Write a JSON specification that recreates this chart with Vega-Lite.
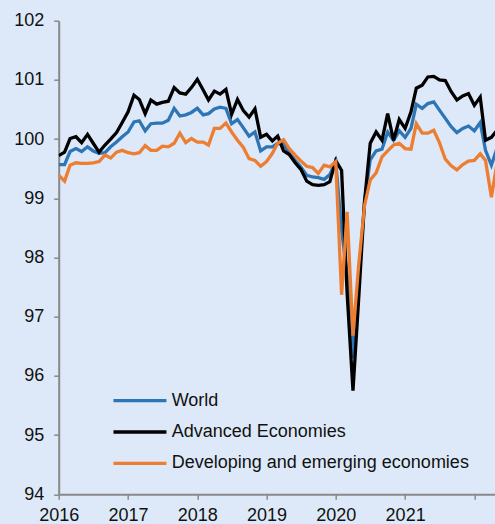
{
  "$schema": "https://vega.github.io/schema/vega-lite/v6.json",
  "autosize": "none",
  "width": 436.3,
  "height": 473.6,
  "padding": {"left": 58.7, "top": 20.7, "right": 0, "bottom": 29.7},
  "background": "#dde9f8",
  "config": {
    "view": {"stroke": null},
    "font": "Liberation Sans",
    "axis": {"grid": false, "domainColor": "#898989", "domainWidth": 2, "tickColor": "#898989", "tickWidth": 1.5, "tickSize": 5, "labelFont": "Liberation Sans", "labelFontSize": 18, "labelColor": "#111111", "title": null}
  },
  "data": {"values": [
    {"date":"2016-01-01","World":99.57,"Advanced Economies":99.72,"Developing and emerging economies":99.39},
    {"date":"2016-02-01","World":99.57,"Advanced Economies":99.78,"Developing and emerging economies":99.29},
    {"date":"2016-03-01","World":99.79,"Advanced Economies":100.01,"Developing and emerging economies":99.56},
    {"date":"2016-04-01","World":99.84,"Advanced Economies":100.04,"Developing and emerging economies":99.60},
    {"date":"2016-05-01","World":99.79,"Advanced Economies":99.94,"Developing and emerging economies":99.59},
    {"date":"2016-06-01","World":99.87,"Advanced Economies":100.08,"Developing and emerging economies":99.59},
    {"date":"2016-07-01","World":99.80,"Advanced Economies":99.93,"Developing and emerging economies":99.60},
    {"date":"2016-08-01","World":99.76,"Advanced Economies":99.78,"Developing and emerging economies":99.62},
    {"date":"2016-09-01","World":99.77,"Advanced Economies":99.90,"Developing and emerging economies":99.73},
    {"date":"2016-10-01","World":99.87,"Advanced Economies":100.00,"Developing and emerging economies":99.68},
    {"date":"2016-11-01","World":99.95,"Advanced Economies":100.11,"Developing and emerging economies":99.78},
    {"date":"2016-12-01","World":100.04,"Advanced Economies":100.28,"Developing and emerging economies":99.81},
    {"date":"2017-01-01","World":100.12,"Advanced Economies":100.46,"Developing and emerging economies":99.77},
    {"date":"2017-02-01","World":100.29,"Advanced Economies":100.74,"Developing and emerging economies":99.75},
    {"date":"2017-03-01","World":100.31,"Advanced Economies":100.67,"Developing and emerging economies":99.77},
    {"date":"2017-04-01","World":100.14,"Advanced Economies":100.43,"Developing and emerging economies":99.89},
    {"date":"2017-05-01","World":100.26,"Advanced Economies":100.66,"Developing and emerging economies":99.81},
    {"date":"2017-06-01","World":100.27,"Advanced Economies":100.59,"Developing and emerging economies":99.81},
    {"date":"2017-07-01","World":100.27,"Advanced Economies":100.62,"Developing and emerging economies":99.88},
    {"date":"2017-08-01","World":100.32,"Advanced Economies":100.64,"Developing and emerging economies":99.87},
    {"date":"2017-09-01","World":100.52,"Advanced Economies":100.87,"Developing and emerging economies":99.93},
    {"date":"2017-10-01","World":100.39,"Advanced Economies":100.78,"Developing and emerging economies":100.10},
    {"date":"2017-11-01","World":100.41,"Advanced Economies":100.76,"Developing and emerging economies":99.94},
    {"date":"2017-12-01","World":100.45,"Advanced Economies":100.87,"Developing and emerging economies":100.01},
    {"date":"2018-01-01","World":100.52,"Advanced Economies":101.01,"Developing and emerging economies":99.95},
    {"date":"2018-02-01","World":100.41,"Advanced Economies":100.83,"Developing and emerging economies":99.95},
    {"date":"2018-03-01","World":100.43,"Advanced Economies":100.66,"Developing and emerging economies":99.90},
    {"date":"2018-04-01","World":100.51,"Advanced Economies":100.81,"Developing and emerging economies":100.18},
    {"date":"2018-05-01","World":100.54,"Advanced Economies":100.76,"Developing and emerging economies":100.18},
    {"date":"2018-06-01","World":100.52,"Advanced Economies":100.84,"Developing and emerging economies":100.27},
    {"date":"2018-07-01","World":100.26,"Advanced Economies":100.42,"Developing and emerging economies":100.12},
    {"date":"2018-08-01","World":100.33,"Advanced Economies":100.67,"Developing and emerging economies":99.98},
    {"date":"2018-09-01","World":100.19,"Advanced Economies":100.48,"Developing and emerging economies":99.86},
    {"date":"2018-10-01","World":100.05,"Advanced Economies":100.37,"Developing and emerging economies":99.67},
    {"date":"2018-11-01","World":100.12,"Advanced Economies":100.51,"Developing and emerging economies":99.64},
    {"date":"2018-12-01","World":99.80,"Advanced Economies":100.03,"Developing and emerging economies":99.54},
    {"date":"2019-01-01","World":99.87,"Advanced Economies":100.08,"Developing and emerging economies":99.62},
    {"date":"2019-02-01","World":99.87,"Advanced Economies":99.97,"Developing and emerging economies":99.76},
    {"date":"2019-03-01","World":99.93,"Advanced Economies":100.05,"Developing and emerging economies":99.93},
    {"date":"2019-04-01","World":99.92,"Advanced Economies":99.80,"Developing and emerging economies":99.99},
    {"date":"2019-05-01","World":99.76,"Advanced Economies":99.74,"Developing and emerging economies":99.84},
    {"date":"2019-06-01","World":99.64,"Advanced Economies":99.60,"Developing and emerging economies":99.73},
    {"date":"2019-07-01","World":99.53,"Advanced Economies":99.49,"Developing and emerging economies":99.63},
    {"date":"2019-08-01","World":99.39,"Advanced Economies":99.29,"Developing and emerging economies":99.54},
    {"date":"2019-09-01","World":99.36,"Advanced Economies":99.23,"Developing and emerging economies":99.52},
    {"date":"2019-10-01","World":99.35,"Advanced Economies":99.22,"Developing and emerging economies":99.42},
    {"date":"2019-11-01","World":99.32,"Advanced Economies":99.23,"Developing and emerging economies":99.56},
    {"date":"2019-12-01","World":99.40,"Advanced Economies":99.28,"Developing and emerging economies":99.53},
    {"date":"2020-01-01","World":99.62,"Advanced Economies":99.64,"Developing and emerging economies":99.62},
    {"date":"2020-02-01","World":98.46,"Advanced Economies":99.47,"Developing and emerging economies":97.37},
    {"date":"2020-03-01","World":97.70,"Advanced Economies":97.40,"Developing and emerging economies":98.77},
    {"date":"2020-04-01","World":96.30,"Advanced Economies":95.75,"Developing and emerging economies":96.68},
    {"date":"2020-05-01","World":97.60,"Advanced Economies":97.30,"Developing and emerging economies":97.87},
    {"date":"2020-06-01","World":98.95,"Advanced Economies":98.95,"Developing and emerging economies":98.88},
    {"date":"2020-07-01","World":99.65,"Advanced Economies":99.93,"Developing and emerging economies":99.31},
    {"date":"2020-08-01","World":99.80,"Advanced Economies":100.12,"Developing and emerging economies":99.43},
    {"date":"2020-09-01","World":99.83,"Advanced Economies":99.98,"Developing and emerging economies":99.70},
    {"date":"2020-10-01","World":100.12,"Advanced Economies":100.43,"Developing and emerging economies":99.80},
    {"date":"2020-11-01","World":99.98,"Advanced Economies":99.98,"Developing and emerging economies":99.90},
    {"date":"2020-12-01","World":100.14,"Advanced Economies":100.33,"Developing and emerging economies":99.93},
    {"date":"2021-01-01","World":100.03,"Advanced Economies":100.18,"Developing and emerging economies":99.84},
    {"date":"2021-02-01","World":100.18,"Advanced Economies":100.46,"Developing and emerging economies":99.83},
    {"date":"2021-03-01","World":100.59,"Advanced Economies":100.86,"Developing and emerging economies":100.26},
    {"date":"2021-04-01","World":100.52,"Advanced Economies":100.91,"Developing and emerging economies":100.10},
    {"date":"2021-05-01","World":100.60,"Advanced Economies":101.05,"Developing and emerging economies":100.10},
    {"date":"2021-06-01","World":100.63,"Advanced Economies":101.06,"Developing and emerging economies":100.15},
    {"date":"2021-07-01","World":100.49,"Advanced Economies":101.00,"Developing and emerging economies":99.94},
    {"date":"2021-08-01","World":100.35,"Advanced Economies":100.99,"Developing and emerging economies":99.66},
    {"date":"2021-09-01","World":100.21,"Advanced Economies":100.80,"Developing and emerging economies":99.55},
    {"date":"2021-10-01","World":100.11,"Advanced Economies":100.66,"Developing and emerging economies":99.48},
    {"date":"2021-11-01","World":100.18,"Advanced Economies":100.73,"Developing and emerging economies":99.57},
    {"date":"2021-12-01","World":100.22,"Advanced Economies":100.77,"Developing and emerging economies":99.63},
    {"date":"2022-01-01","World":100.14,"Advanced Economies":100.57,"Developing and emerging economies":99.64},
    {"date":"2022-02-01","World":100.28,"Advanced Economies":100.71,"Developing and emerging economies":99.75},
    {"date":"2022-03-01","World":99.81,"Advanced Economies":99.98,"Developing and emerging economies":99.64},
    {"date":"2022-04-01","World":99.56,"Advanced Economies":100.03,"Developing and emerging economies":99.02},
    {"date":"2022-05-01","World":99.85,"Advanced Economies":100.15,"Developing and emerging economies":99.60}
  ]},
  "transform": [{"fold": ["World", "Advanced Economies", "Developing and emerging economies"], "as": ["series", "value"]}],
  "encoding": {
    "x": {"field": "date", "type": "temporal",
      "scale": {"type": "utc", "domain": [{"year": 2016, "month": 1, "date": 1, "utc": true}, {"year": 2022, "month": 4, "date": 20, "utc": true}]},
      "axis": {"values": [{"year": 2016, "month": 1, "date": 1, "utc": true}, {"year": 2017, "month": 1, "date": 1, "utc": true}, {"year": 2018, "month": 1, "date": 1, "utc": true}, {"year": 2019, "month": 1, "date": 1, "utc": true}, {"year": 2020, "month": 1, "date": 1, "utc": true}, {"year": 2021, "month": 1, "date": 1, "utc": true}, {"year": 2022, "month": 1, "date": 1, "utc": true}],
        "labelExpr": "utcyear(datum.value) == 2022 ? '' : utcFormat(datum.value, '%Y')", "labelPadding": 7, "labelFlush": false, "labelOverlap": false, "labelBound": false}},
    "y": {"field": "value", "type": "quantitative",
      "scale": {"domain": [94, 102], "nice": false, "zero": false},
      "axis": {"values": [94, 95, 96, 97, 98, 99, 100, 101, 102], "format": "d", "labelPadding": 10}},
    "color": {"field": "series", "type": "nominal",
      "scale": {"domain": ["World", "Advanced Economies", "Developing and emerging economies"], "range": ["#2e75b6", "#000000", "#ed7d31"]},
      "legend": {"orient": "none", "legendX": 53, "legendY": 365, "title": null, "direction": "vertical", "symbolType": "M-1,0H3", "symbolSize": 702, "symbolStrokeWidth": 3.3, "labelFont": "Liberation Sans", "labelFontSize": 18, "labelColor": "#111111", "labelOffset": 30, "labelLimit": 0, "padding": 0, "rowPadding": 7.3}}
  },
  "layer": [
    {"transform": [{"filter": "datum.series === 'World'"}], "mark": {"type": "line", "strokeWidth": 3.3, "clip": true}},
    {"transform": [{"filter": "datum.series === 'Advanced Economies'"}], "mark": {"type": "line", "strokeWidth": 3.3, "clip": true}},
    {"transform": [{"filter": "datum.series === 'Developing and emerging economies'"}], "mark": {"type": "line", "strokeWidth": 3.3, "clip": true}}
  ]
}
